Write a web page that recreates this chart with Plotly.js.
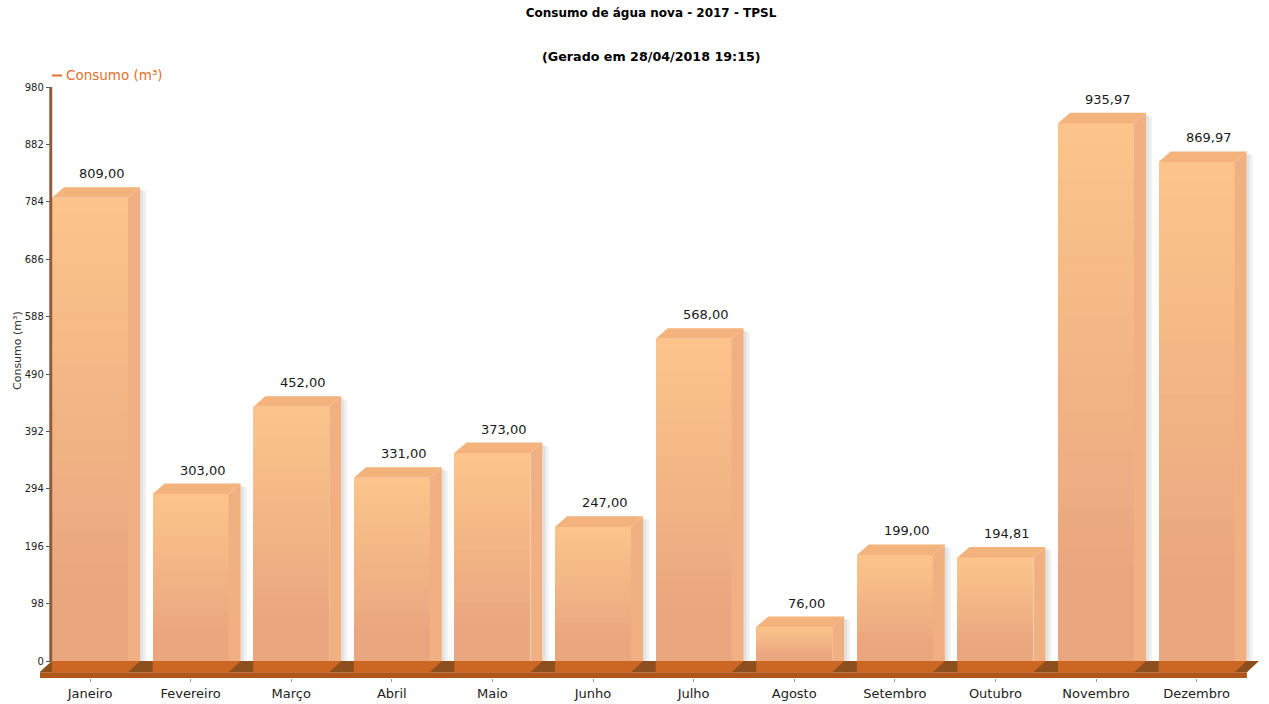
<!DOCTYPE html>
<html>
<head>
<meta charset="utf-8">
<script src="https://cdn.plot.ly/plotly-3.0.1.min.js"></script>
<style>html,body{margin:0;padding:0;background:#fff;}#chart{width:1269px;height:704px;}</style>
</head>
<body>
<div id="chart"></div>
<script>
// ---- data ----
const categories = ['Janeiro','Fevereiro','Março','Abril','Maio','Junho','Julho','Agosto','Setembro','Outubro','Novembro','Dezembro'];
const consumo = [809.00, 303.00, 452.00, 331.00, 373.00, 247.00, 568.00, 76.00, 199.00, 194.81, 935.97, 869.97];
const yTicks = [0, 98, 196, 294, 392, 490, 588, 686, 784, 882, 980];
const chartTitle = 'Consumo de água nova - 2017 - TPSL';
const chartSubtitle = '(Gerado em 28/04/2018 19:15)';
const seriesName = 'Consumo (m³)';

// ---- style / geometry ----
const FONT = 'DejaVu Sans, Verdana, sans-serif';
const BAR_W = 0.755, DX = 0.12, DY = 18;      // bar width and 3D depth (x in categories, y in data units)
const FLOOR_TOP = -19, FLOOR_BOTTOM = -29;
const xRange = [-0.497, 11.65];
const yRange = [FLOOR_BOTTOM, yTicks[yTicks.length - 1]];
const AXIS_X = -0.39;
const NSEG = 28;
const light = [252, 197, 139], dark = [234, 166, 127];

function mix(t) {
  const c = light.map((l, j) => Math.round(dark[j] + (l - dark[j]) * t));
  return 'rgb(' + c.join(',') + ')';
}
const idx = categories.map((_, i) => i);
const n = categories.length;

// front faces: overlapping bars from the base, tallest (lightest) first -> vertical gradient without seams
const traces = [];
for (let k = NSEG; k >= 1; k--) {
  const tc = (k - 0.5) / NSEG;
  const t = Math.max(0, Math.min(1, (tc - 0.15) / 0.85));
  traces.push({
    type: 'bar',
    x: idx,
    y: consumo.map(v => (v - DY) * k / NSEG),
    width: BAR_W,
    marker: {color: mix(t), line: {width: 0}},
    hoverinfo: 'skip',
    showlegend: false
  });
}

const shapes = [];
// floor top (dark)
shapes.push({type: 'path', xref: 'x', yref: 'y', layer: 'above', line: {width: 0}, fillcolor: '#8e4f1f',
  path: `M ${-0.5} ${FLOOR_TOP} L ${n - 0.5} ${FLOOR_TOP} L ${n - 0.5 + DX} 0 L ${-0.5 + DX} 0 Z`});
// bar footprints on floor
idx.forEach(i => {
  const l = i - BAR_W / 2, r = i + BAR_W / 2;
  shapes.push({type: 'path', xref: 'x', yref: 'y', layer: 'above', line: {width: 0}, fillcolor: '#cb6723',
    path: `M ${l} ${FLOOR_TOP} L ${r} ${FLOOR_TOP} L ${r + DX} 0 L ${l} 0 Z`});
});
// floor front
shapes.push({type: 'rect', xref: 'x', yref: 'y', layer: 'above', line: {width: 0}, fillcolor: '#b0561b',
  x0: -0.5, x1: n - 0.5, y0: FLOOR_BOTTOM, y1: FLOOR_TOP});
// bar tops, sides, shadows
idx.forEach(i => {
  const v = consumo[i];
  const l = i - BAR_W / 2, r = i + BAR_W / 2;
  shapes.push({type: 'rect', xref: 'x', yref: 'y', layer: 'below', line: {width: 0}, fillcolor: 'rgba(120,120,120,0.10)',
    x0: r + DX, x1: r + DX + 0.06, y0: 0, y1: v - 6});
  shapes.push({type: 'rect', xref: 'x', yref: 'y', layer: 'below', line: {width: 0}, fillcolor: 'rgba(120,120,120,0.12)',
    x0: r + DX, x1: r + DX + 0.03, y0: 0, y1: v - 4});
  shapes.push({type: 'path', xref: 'x', yref: 'y', layer: 'above', line: {width: 0}, fillcolor: '#f1b081',
    path: `M ${r} ${v - DY} L ${r + DX} ${v} L ${r + DX} 0 L ${r} 0 Z`});
  shapes.push({type: 'path', xref: 'x', yref: 'y', layer: 'above', line: {width: 0}, fillcolor: '#f4b27d',
    path: `M ${l} ${v - DY} L ${r} ${v - DY} L ${r + DX} ${v} L ${l + DX} ${v} Z`});
});
// y axis line
shapes.push({type: 'line', xref: 'x', yref: 'y', layer: 'above', x0: AXIS_X, x1: AXIS_X, y0: 0, y1: yRange[1],
  line: {color: '#8f5d3d', width: 3}});

const fmt = v => v.toFixed(2).replace('.', ',');
const annotations = idx.map(i => ({
  xref: 'x', yref: 'y', x: i + DX, y: consumo[i], text: fmt(consumo[i]),
  showarrow: false, yanchor: 'bottom', yshift: 4,
  font: {family: FONT, size: 13, color: '#1a1a1a'}
}));
const H = 704, T = 87, B = 26;
const plotH = H - T - B;
const pxToPaperY = py => (H - B - py) / plotH;
const plotW = 1269 - 40 - 7;
const pxToPaperX = px => (px - 40) / plotW;
// legend marker (short line)
shapes.push({type: 'line', xref: 'paper', yref: 'paper', x0: pxToPaperX(52), x1: pxToPaperX(62),
  y0: pxToPaperY(75.5), y1: pxToPaperY(75.5), line: {color: '#e26f2b', width: 2}});
annotations.push({xref: 'paper', yref: 'paper', x: 0.5, y: pxToPaperY(56), yanchor: 'middle', xanchor: 'center',
  text: '<b>' + chartSubtitle + '</b>', showarrow: false, font: {family: FONT, size: 12.7, color: '#000'}});
annotations.push({xref: 'paper', yref: 'paper', x: pxToPaperX(64), y: pxToPaperY(75), yanchor: 'middle', xanchor: 'left',
  text: seriesName, showarrow: false, font: {family: FONT, size: 13.5, color: '#e26f2b'}});
annotations.push({xref: 'paper', yref: 'paper', x: pxToPaperX(17), y: pxToPaperY(351), yanchor: 'middle', xanchor: 'center',
  textangle: -90, text: seriesName, showarrow: false, font: {family: FONT, size: 11, color: '#333'}});

const layout = {
  width: 1269, height: 704,
  margin: {l: 40, r: 7, t: T, b: B},
  paper_bgcolor: '#fff', plot_bgcolor: '#fff',
  barmode: 'overlay', bargap: 0,
  showlegend: false,
  title: {text: '<b>' + chartTitle + '</b>', x: 0.5, xref: 'paper', xanchor: 'center', y: 1 - 13 / 704, yanchor: 'middle',
    font: {family: FONT, size: 12, color: '#000'}},
  xaxis: {range: xRange, tickvals: idx, ticktext: categories, showgrid: false, zeroline: false, showline: false,
    ticks: 'outside', ticklen: 3, tickcolor: '#999', tickfont: {family: FONT, size: 13, color: '#222'}, fixedrange: true},
  yaxis: {range: yRange, tickvals: yTicks, ticktext: yTicks.map(String), showgrid: false, zeroline: false, showline: false,
    anchor: 'free', position: (AXIS_X - xRange[0]) / (xRange[1] - xRange[0]),
    ticks: 'outside', ticklen: 5, tickcolor: '#555', tickfont: {family: FONT, size: 10, color: '#222'}, fixedrange: true},
  shapes: shapes,
  annotations: annotations
};
Plotly.newPlot('chart', traces, layout, {displayModeBar: false, staticPlot: true});
</script>
</body>
</html>
